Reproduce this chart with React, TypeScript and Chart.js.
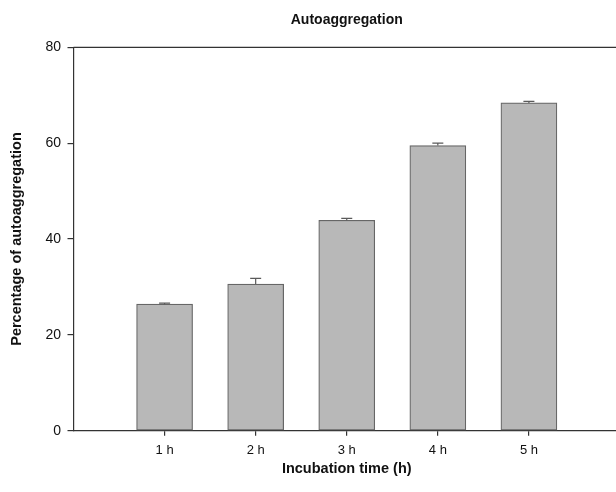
import React, { useEffect, useRef } from "react";
import { Chart, registerables } from "chart.js";

Chart.register(...registerables);

const chartTitle = "Autoaggregation";
const xAxisTitle = "Incubation time (h)";
const yAxisTitle = "Percentage of autoaggregation";
const categories = ["1 h", "2 h", "3 h", "4 h", "5 h"];
const values = [26.4, 30.6, 43.9, 59.5, 68.4];
const errors = [0.2, 1.2, 0.4, 0.5, 0.3];
const yMin = 0;
const yMax = 80;
const yStep = 20;

const FONT = "'Liberation Sans', Arial, Helvetica, sans-serif";
const AXIS = "#333333";

// pad the category list with empty slots at both ends (axis has room on the left and right)
const labels = ["", ...categories, ""];
const barValues = [null, ...values, null];
const barErrors = [null, ...errors, null];

const frameAndErrors = {
  id: "frameAndErrors",
  afterDatasetsDraw(chart: any) {
    const { ctx, chartArea } = chart;
    const ys = chart.scales.y;
    const meta = chart.getDatasetMeta(0);
    ctx.save();
    // error bars (upper only)
    ctx.strokeStyle = "#5a5a5a";
    ctx.lineWidth = 1.2;
    meta.data.forEach((el: any, i: number) => {
      const v = barValues[i];
      const e = barErrors[i];
      if (v == null || e == null) return;
      const x = el.x;
      const y0 = ys.getPixelForValue(v);
      const y1 = ys.getPixelForValue(v + e);
      ctx.beginPath();
      ctx.moveTo(x, y0);
      ctx.lineTo(x, y1);
      ctx.moveTo(x - 5.5, y1);
      ctx.lineTo(x + 5.5, y1);
      ctx.stroke();
    });
    // top and right frame lines
    ctx.strokeStyle = AXIS;
    ctx.lineWidth = 1.2;
    ctx.beginPath();
    ctx.moveTo(chartArea.left, chartArea.top);
    ctx.lineTo(chartArea.right, chartArea.top);
    ctx.lineTo(chartArea.right, chartArea.bottom);
    ctx.stroke();
    ctx.restore();
  },
};

export default function App() {
  const ref = useRef<HTMLCanvasElement>(null);

  useEffect(() => {
    if (!ref.current) return;
    const chart = new Chart(ref.current, {
      type: "bar",
      data: {
        labels,
        datasets: [
          {
            data: barValues as any,
            backgroundColor: "#b8b8b8",
            borderColor: "#666666",
            borderWidth: 1.2,
            borderSkipped: false,
            barThickness: 56,
          },
        ],
      },
      plugins: [frameAndErrors],
      options: {
        responsive: false,
        animation: false,
        devicePixelRatio: 1,
        layout: { autoPadding: false, padding: { left: 0, right: 0, top: 0, bottom: 0 } },
        plugins: {
          legend: { display: false },
          tooltip: { enabled: false },
          title: {
            display: true,
            text: chartTitle,
            fullSize: false,
            color: "#111",
            font: { family: FONT, size: 14, weight: "bold" },
            padding: { top: 3.6, bottom: 18.9 },
          },
        },
        scales: {
          x: {
            type: "category",
            offset: false,
            afterFit: (s: any) => {
              s.height = 53.3;
              s.paddingLeft = 0;
              s.paddingRight = 0;
            },
            border: { display: true, color: AXIS, width: 1.2 },
            grid: {
              display: true,
              offset: false,
              drawOnChartArea: false,
              drawTicks: true,
              tickLength: 5,
              lineWidth: 1.2,
              color: (c: any) => (c.index >= 1 && c.index <= categories.length ? AXIS : "rgba(0,0,0,0)"),
            },
            ticks: {
              autoSkip: false,
              maxRotation: 0,
              padding: 7,
              color: "#111",
              font: { family: FONT, size: 13 },
            },
            title: {
              display: true,
              text: xAxisTitle,
              color: "#111",
              font: { family: FONT, size: 14.5, weight: "bold" },
              padding: { top: 0, bottom: 6.5 },
            },
          },
          y: {
            min: yMin,
            max: yMax,
            afterFit: (s: any) => {
              s.width = 65.5;
            },
            border: { display: true, color: AXIS, width: 1.2 },
            grid: {
              display: true,
              drawOnChartArea: false,
              drawTicks: true,
              tickLength: 6,
              lineWidth: 1.2,
              color: AXIS,
            },
            ticks: {
              stepSize: yStep,
              padding: 6.5,
              color: "#111",
              font: { family: FONT, size: 14 },
            },
            title: {
              display: true,
              text: yAxisTitle,
              color: "#111",
              font: { family: FONT, size: 14.5, weight: "bold" },
              padding: { top: 0, bottom: 0 },
            },
          },
        },
      },
    });
    return () => {
      chart.destroy();
    };
  }, []);

  return (
    <div
      style={{
        position: "fixed",
        left: 0,
        top: 0,
        width: 616,
        height: 492,
        overflow: "hidden",
        background: "#fff",
      }}
    >
      <canvas
        ref={ref}
        width={612}
        height={476}
        style={{ position: "absolute", left: 8, top: 8, display: "block", width: 612, height: 476 }}
      />
    </div>
  );
}
